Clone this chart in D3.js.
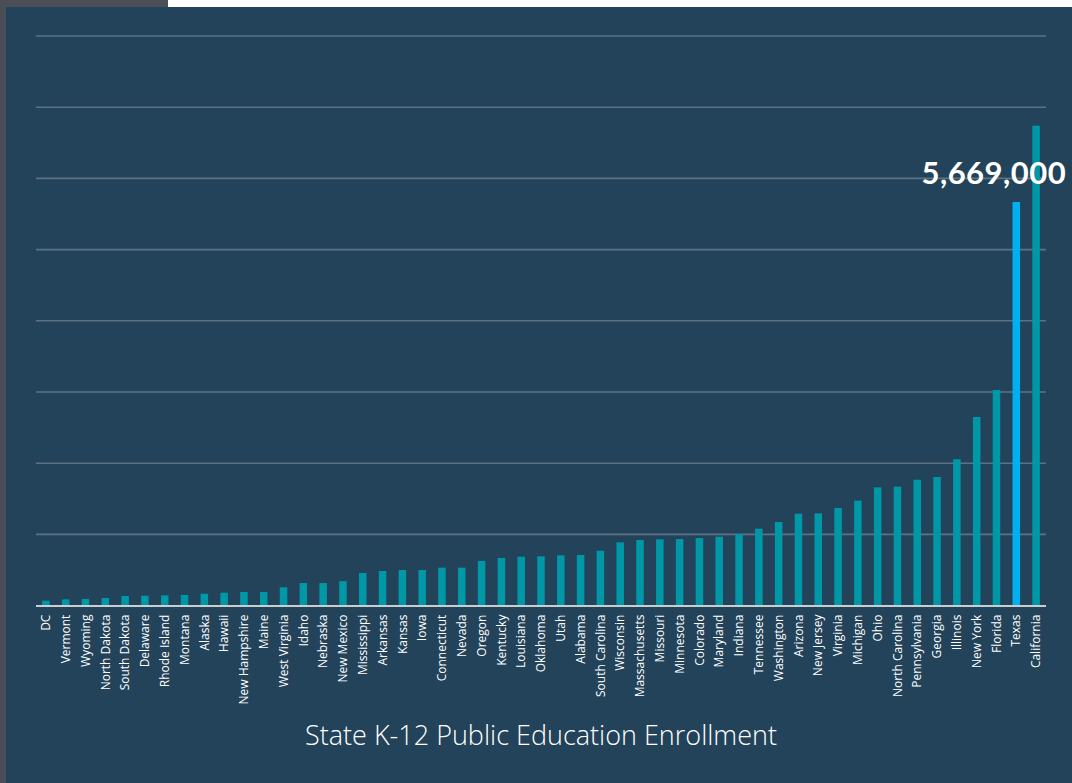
<!DOCTYPE html>
<html lang="en">
<head>
<meta charset="UTF-8">
<title>State K-12 Public Education Enrollment</title>
<script src="https://d3js.org/d3.v7.min.js"></script>
<style>
  html, body { margin: 0; padding: 0; background: #ffffff; }
  svg { display: block; }
  .state-label { font-family: "Open Sans", sans-serif; font-size: 12px; fill: #ffffff; }
  .title { font-family: "Open Sans", sans-serif; font-size: 27px; fill: #ffffff; font-weight: 300; }
  .callout { font-family: "Lato", sans-serif; font-size: 31px; font-weight: 700; fill: #ffffff; letter-spacing: 0.5px; }
</style>
</head>
<body>
<svg width="1072" height="783"></svg>
<script>
// states in display order (ascending enrollment)
const states = ["DC", "Vermont", "Wyoming", "North Dakota", "South Dakota", "Delaware", "Rhode Island",
  "Montana", "Alaska", "Hawaii", "New Hampshire", "Maine", "West Virginia", "Idaho", "Nebraska",
  "New Mexico", "Mississippi", "Arkansas", "Kansas", "Iowa", "Connecticut", "Nevada", "Oregon",
  "Kentucky", "Louisiana", "Oklahoma", "Utah", "Alabama", "South Carolina", "Wisconsin",
  "Massachusetts", "Missouri", "Minnesota", "Colorado", "Maryland", "Indiana", "Tennessee",
  "Washington", "Arizona", "New Jersey", "Virginia", "Michigan", "Ohio", "North Carolina",
  "Pennsylvania", "Georgia", "Illinois", "New York", "Florida", "Texas", "California"];

// enrollment
const enrollment = [69000, 88000, 93000, 107000, 135000, 139000, 144000,
  149000, 167000, 181000, 191000, 191000, 257000, 317000, 317000,
  343000, 458000, 486000, 500000, 500000, 533000, 533000, 627000,
  669000, 687000, 692000, 706000, 711000, 771000, 889000,
  921000, 931000, 935000, 949000, 968000, 1006000, 1080000,
  1174000, 1291000, 1296000, 1371000, 1474000, 1661000, 1670000,
  1768000, 1806000, 2055000, 2649000, 3028000, 5669000, 6740000];

const highlight = "Texas";
const gridTicks = [1e6, 2e6, 3e6, 4e6, 5e6, 6e6, 7e6, 8e6];
const chartTitle = "State K-12 Public Education Enrollment";

const data = states.map((s, i) => ({ state: s, value: enrollment[i] }));

const svg = d3.select("svg");

// backdrop: grey strip at left, white/grey strip on top, dark panel
svg.append("rect").attr("x", 0).attr("y", 0).attr("width", 1072).attr("height", 783).attr("fill", "#ffffff");
svg.append("rect").attr("x", 0).attr("y", 0).attr("width", 168).attr("height", 783).attr("fill", "#4a4e56");
svg.append("rect").attr("x", 6).attr("y", 7).attr("width", 1066).attr("height", 776).attr("fill", "#22435a");

const x = d3.scaleBand()
  .domain(states)
  .range([36, 1046])
  .paddingInner(0.62)
  .paddingOuter(0.31);

const y = d3.scaleLinear()
  .domain([0, 8e6])
  .range([605.6, 36]);

// gridlines
svg.append("g")
  .selectAll("line")
  .data(gridTicks)
  .join("line")
  .attr("x1", 36)
  .attr("x2", 1046)
  .attr("y1", d => y(d))
  .attr("y2", d => y(d))
  .attr("stroke", "#5d7384")
  .attr("stroke-width", 1.6);

// bars
svg.append("g")
  .selectAll("rect")
  .data(data)
  .join("rect")
  .attr("x", d => x(d.state))
  .attr("y", d => y(d.value))
  .attr("width", x.bandwidth())
  .attr("height", d => y(0) - y(d.value))
  .attr("fill", d => d.state === highlight ? "#00b0f0" : "#0097a7");

// baseline
svg.append("line")
  .attr("x1", 36).attr("x2", 1046)
  .attr("y1", y(0) + 0.5).attr("y2", y(0) + 0.5)
  .attr("stroke", "#c9ced2")
  .attr("stroke-width", 2);

// x axis labels, rotated
const xAxis = svg.append("g")
  .attr("transform", `translate(0,${y(0) + 2})`)
  .call(d3.axisBottom(x).tickSize(0).tickPadding(0));
xAxis.select(".domain").remove();
xAxis.selectAll("text")
  .attr("class", "state-label")
  .attr("text-anchor", "end")
  .attr("transform", "rotate(-90)")
  .attr("x", -7)
  .attr("y", 0)
  .attr("dy", "0.35em");

// callout for the highlighted bar
const hi = data.find(d => d.state === highlight);
svg.append("text")
  .attr("class", "callout")
  .attr("x", x(highlight) + x.bandwidth() / 2 + 50)
  .attr("y", y(hi.value) - 18)
  .attr("text-anchor", "end")
  .text(d3.format(",")(hi.value));

// title
svg.append("text")
  .attr("class", "title")
  .attr("x", 541)
  .attr("y", 745)
  .attr("text-anchor", "middle")
  .text(chartTitle);
</script>
</body>
</html>
